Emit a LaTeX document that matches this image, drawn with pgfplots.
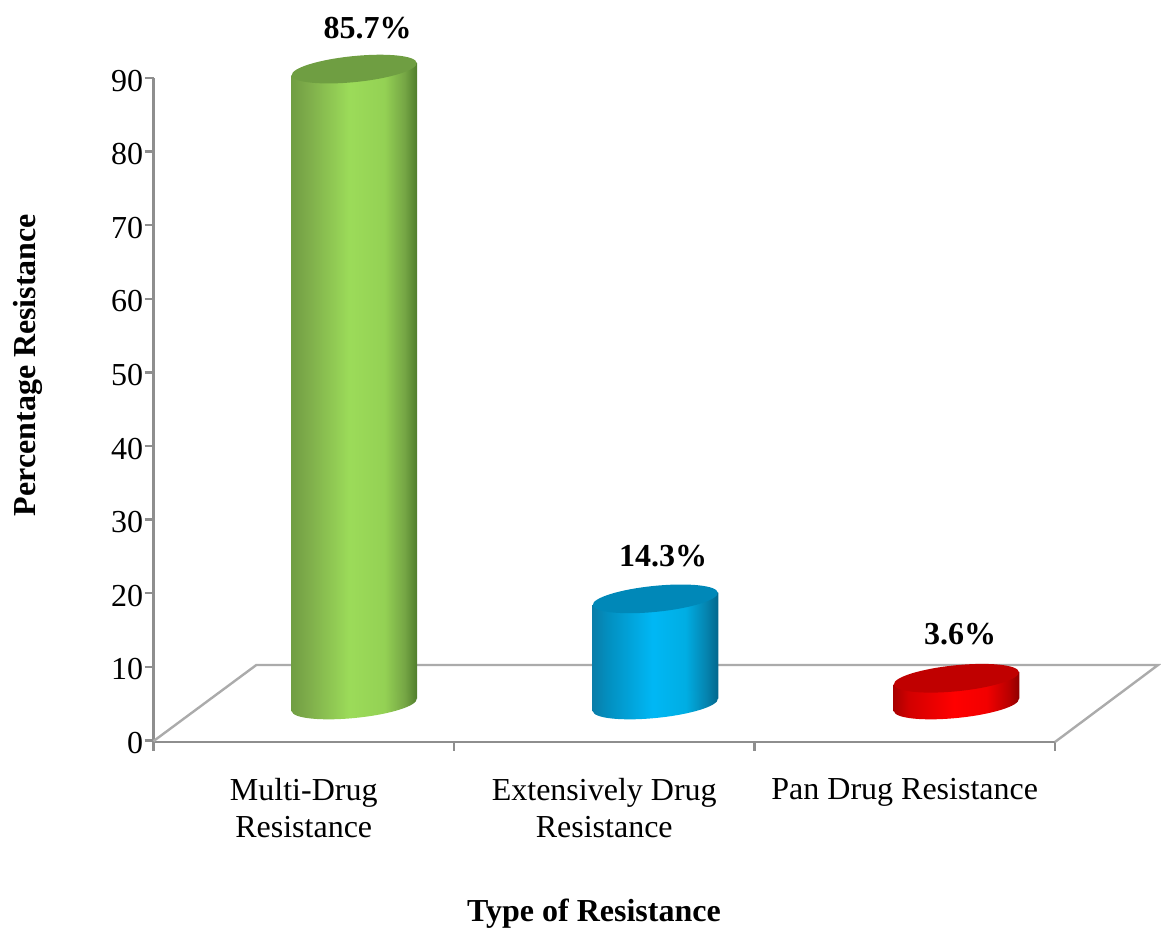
\documentclass[border=0pt]{standalone}
\usepackage{fontspec}
\setmainfont{Liberation Serif}
\usepackage{pgfplots}
\pgfplotsset{compat=1.18}

\definecolor{axisgray}{HTML}{8E8E8E}
\definecolor{floorgray}{HTML}{ABABAB}
\definecolor{captopgreen}{HTML}{6F9E42}
\definecolor{captopblue}{HTML}{0088B8}
\definecolor{captopred}{HTML}{C00000}

% Horizontal cylinder shadings: the visible part of a shading runs from 25bp to 75bp
\pgfdeclarehorizontalshading{greencyl}{100bp}{
  rgb(0bp)=(0.44,0.62,0.26); rgb(25bp)=(0.44,0.62,0.26); rgb(31bp)=(0.49,0.67,0.29); rgb(48bp)=(0.61,0.86,0.35);
  rgb(62bp)=(0.58,0.82,0.33); rgb(70bp)=(0.46,0.65,0.27); rgb(75bp)=(0.31,0.49,0.17); rgb(100bp)=(0.31,0.49,0.17)}
\pgfdeclarehorizontalshading{bluecyl}{100bp}{
  rgb(0bp)=(0.04,0.49,0.66); rgb(25bp)=(0.04,0.49,0.66); rgb(31bp)=(0.01,0.56,0.75); rgb(49bp)=(0,0.72,0.96);
  rgb(62bp)=(0,0.68,0.89); rgb(70bp)=(0.02,0.52,0.69); rgb(75bp)=(0.01,0.40,0.55); rgb(100bp)=(0.01,0.40,0.55)}
\pgfdeclarehorizontalshading{redcyl}{100bp}{
  rgb(0bp)=(0.66,0,0); rgb(25bp)=(0.66,0,0); rgb(31bp)=(0.82,0,0); rgb(49bp)=(1,0,0);
  rgb(62bp)=(0.95,0,0); rgb(71bp)=(0.72,0,0); rgb(75bp)=(0.55,0,0); rgb(100bp)=(0.55,0,0)}

% Cylinder caps: tilted ellipses drawn as plot marks
\newcommand{\capoutline}{%
  \pgftransformrotate{5.7}%
  \pgfpathellipse{\pgfpointorigin}{\pgfqpoint{47.1pt}{0pt}}{\pgfqpoint{0pt}{9.75pt}}}
\pgfdeclareplotmark{capflat}{\capoutline\pgfusepathqfill}
\pgfdeclareplotmark{basegreen}{\capoutline\pgfshadepath{greencyl}{0}\pgfusepath{discard}}
\pgfdeclareplotmark{baseblue}{\capoutline\pgfshadepath{bluecyl}{0}\pgfusepath{discard}}
\pgfdeclareplotmark{basered}{\capoutline\pgfshadepath{redcyl}{0}\pgfusepath{discard}}

\pgfplotsset{
  frame box/.style={
    at={(115.125pt,142.5pt)}, anchor=south west, scale only axis,
    width=676.1pt, height=498pt,
    xmin=0, xmax=3, clip=false,
    /pgf/number format/assume math mode=true},
  cap top/.style={only marks, mark=capflat, mark options={draw=none, fill=#1}},
  cyl body/.style 2 args={ybar, bar width=94.5pt, bar shift=0pt, draw=none,
    shading=#1, yshift=-#2, yslant=0.1},
  value label/.style 2 args={nodes near coords={\pgfmathprintnumber[fixed,precision=1]{\pgfplotspointmeta}\%},
    point meta=y,
    every node near coord/.append style={font=\fontsize{24}{28}\selectfont\bfseries, text=black,
      anchor=center, xshift=#1, yshift=#2}}
}

\begin{document}
\begin{tikzpicture}[x=0.75pt, y=0.75pt]
\useasboundingbox (0,0) rectangle (1161,932);

% Value axis, category ticks and the floor of the chart
\begin{axis}[frame box,
  ymin=-0.217, ymax=90,
  axis x line=bottom, axis y line=left,
  axis line style={-, line width=1.8pt, color=axisgray},
  tick style={line width=1.8pt, color=axisgray},
  tick align=outside, major tick length=6.6pt,
  xtick={0,1,2,3}, xticklabels={},
  ytick={0,10,...,90},
  yticklabel style={font=\fontsize{24}{28}\selectfont, xshift=2.4pt, yshift=-2pt},
  extra x ticks={0.5,1.5,2.5},
  extra x tick labels={{Multi-Drug\\Resistance},{Extensively Drug\\Resistance},{Pan Drug Resistance}},
  extra x tick style={major tick length=0pt,
    tick label style={font=\fontsize{24}{27.75}\selectfont, align=center, anchor=north, yshift=-24pt}},
]
\addplot[floorgray, line width=1.8pt, no marks] coordinates
  {(0,-0.1) (0.342,10.24) (3.343,10.24) (3,-0.217)};
\end{axis}

% Cylinders: bars stand on the middle of the floor, so the baseline is raised
\begin{axis}[frame box, hide axis, ymin=-4.99, ymax=84.5]
\addplot[only marks, mark=basegreen] coordinates {(0.668,0)};
\addplot[cyl body={greencyl}{15.05pt}] coordinates {(0.668,85.7)};
\addplot[cap top={captopgreen}, value label={10pt}{31pt}] coordinates {(0.668,85.7)};

\addplot[only marks, mark=baseblue] coordinates {(1.670,0)};
\addplot[cyl body={bluecyl}{37.64pt}] coordinates {(1.670,14.3)};
\addplot[cap top={captopblue}, value label={5.8pt}{32pt}] coordinates {(1.670,14.3)};

\addplot[only marks, mark=basered] coordinates {(2.672,0)};
\addplot[cyl body={redcyl}{60.22pt}] coordinates {(2.672,3.6)};
\addplot[cap top={captopred}, value label={2.8pt}{33.4pt}] coordinates {(2.672,3.6)};
\end{axis}

\node[font=\fontsize{24}{28}\selectfont\bfseries, rotate=90] at (28,567) {Percentage Resistance};
\node[font=\fontsize{24}{28}\selectfont\bfseries] at (594,18) {Type of Resistance};
\end{tikzpicture}
\end{document}
